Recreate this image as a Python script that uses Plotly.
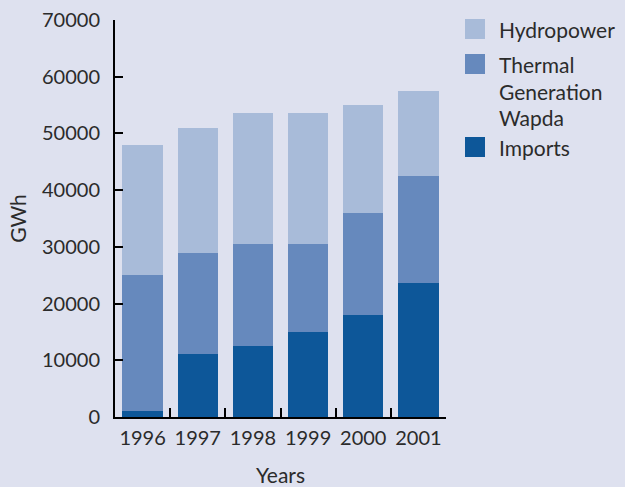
import plotly.graph_objects as go

years = ["1996", "1997", "1998", "1999", "2000", "2001"]
imports = [1000, 11100, 12500, 15000, 18000, 23600]
thermal = [24000, 17900, 18000, 15500, 18000, 18900]
hydro = [23000, 22000, 23100, 23100, 19000, 15000]

names = ["Imports", "Thermal Generation Wapda", "Hydropower"]
colors = ["#0d5799", "#6689bd", "#a8bbd9"]
series = [imports, thermal, hydro]

BG = "#dee1ef"
FONT = "Lato, 'Noto Sans', sans-serif"
TXT = "#2b2b2b"

fig = go.Figure()
for n, c, v in zip(names, colors, series):
    fig.add_trace(go.Bar(x=years, y=v, name=n, marker=dict(color=c, line=dict(width=0)),
                         showlegend=False))

# manual legend (large square swatches), positions in pixels converted to paper
L, T, W, H = 115, 20, 331, 397
def px(x):
    return (x - L) / W
def py(y):
    return (T + H - y) / H

swatches = [(colors[2], 19), (colors[1], 54), (colors[0], 137)]
for col, top in swatches:
    fig.add_shape(type="rect", xref="paper", yref="paper",
                  x0=px(465), x1=px(485), y0=py(top + 20), y1=py(top),
                  fillcolor=col, line=dict(width=0))
legend_lines = [("Hydropower", 30), ("Thermal", 65), ("Generation", 92),
                ("Wapda", 118), ("Imports", 148)]
for text, yc in legend_lines:
    fig.add_annotation(xref="paper", yref="paper", x=px(497), y=py(yc - 0.5),
                       text=text, showarrow=False, xanchor="left", yanchor="middle",
                       font=dict(family=FONT, size=21, color=TXT))

fig.update_layout(
    barmode="stack",
    bargap=0.27,
    width=625, height=487,
    margin=dict(l=L, r=625 - L - W, t=T, b=487 - T - H),
    paper_bgcolor=BG, plot_bgcolor=BG,
    font=dict(family=FONT, size=20, color=TXT),
    xaxis=dict(
        type="category", showgrid=False, showline=True, linecolor="black", linewidth=2,
        ticks="inside", ticklen=9, tickwidth=2, tickcolor="black", tickson="boundaries",
        tickfont=dict(size=20, color=TXT), ticklabelstandoff=2, tickangle=0,
        automargin=False,
        title=dict(text="Years", font=dict(size=21, color=TXT), standoff=21),
    ),
    yaxis=dict(
        range=[0, 70000], dtick=10000, tickformat="d", showgrid=False, zeroline=False,
        showline=True, linecolor="black", linewidth=2, ticks="inside", ticklen=8,
        tickwidth=2, tickcolor="black", tickfont=dict(size=20, color=TXT),
        ticklabelstandoff=9, automargin=False,
        title=dict(text="GWh", font=dict(size=21, color=TXT), standoff=10),
    ),
)

fig.write_html("out.html", config={"displayModeBar": False},
               post_script="document.body.style.margin='0';")
